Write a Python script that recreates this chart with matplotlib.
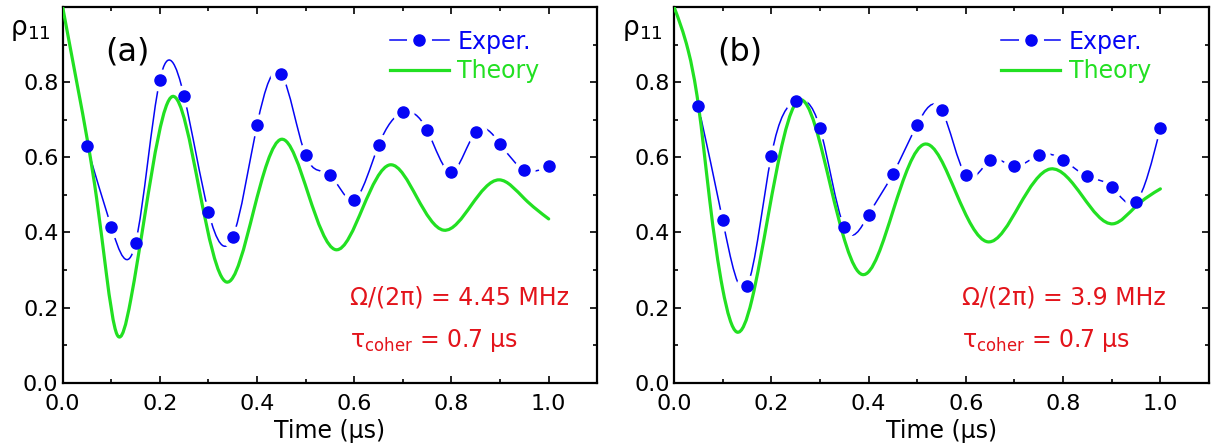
import numpy as np
import matplotlib.pyplot as plt
from matplotlib.path import Path
from matplotlib.patches import PathPatch
from matplotlib.lines import Line2D
from matplotlib.legend_handler import HandlerTuple

plt.rcParams['font.family'] = ['DejaVu Sans']
plt.rcParams['mathtext.fontset'] = 'dejavusans'

# measured points (time in us)
t_exp = [0.05, 0.10, 0.15, 0.20, 0.25, 0.30, 0.35, 0.40, 0.45, 0.50,
         0.55, 0.60, 0.65, 0.70, 0.75, 0.80, 0.85, 0.90, 0.95, 1.00]
exp_a = [0.629, 0.415, 0.372, 0.806, 0.762, 0.455, 0.388, 0.686, 0.822, 0.605,
         0.553, 0.487, 0.632, 0.720, 0.672, 0.561, 0.668, 0.636, 0.567, 0.576]
exp_b = [0.737, 0.433, 0.257, 0.604, 0.750, 0.678, 0.414, 0.447, 0.556, 0.687,
         0.726, 0.552, 0.592, 0.576, 0.606, 0.593, 0.549, 0.521, 0.482, 0.678]

# theory curves
t_th_a = [0.0, 0.029, 0.053, 0.07, 0.09, 0.112, 0.14, 0.169, 0.226, 0.281, 0.337,
          0.393, 0.45, 0.506, 0.562, 0.618, 0.674, 0.729, 0.784, 0.841, 0.898,
          0.95, 1.0]
th_a = [1.0, 0.80, 0.63, 0.49, 0.29, 0.128, 0.22, 0.445, 0.762, 0.515, 0.268,
        0.458, 0.648, 0.50, 0.354, 0.467, 0.580, 0.493, 0.406, 0.473, 0.540,
        0.49, 0.436]
t_th_b = [0.0, 0.029, 0.05, 0.073, 0.10, 0.129, 0.16, 0.1935, 0.258, 0.3225, 0.387,
          0.451, 0.515, 0.58, 0.645, 0.71, 0.774, 0.84, 0.903, 0.95, 1.0]
th_b = [1.0, 0.885, 0.74, 0.49, 0.25, 0.135, 0.22, 0.444, 0.753, 0.52, 0.288,
        0.46, 0.635, 0.505, 0.375, 0.472, 0.569, 0.496, 0.423, 0.47, 0.516]

panel_tags = ['(a)', '(b)']
freq_txt = ['Ω/(2π) = 4.45 MHz', 'Ω/(2π) = 3.9 MHz']

BLUE = '#0505f5'
GREEN = '#22e022'
RED = '#e3141b'


def spline_path(x, y):
    # natural cubic spline through the points, drawn as bezier segments
    x = np.asarray(x, float)
    y = np.asarray(y, float)
    n = len(x)
    h = np.diff(x)
    A = np.zeros((n, n))
    r = np.zeros(n)
    A[0, 0] = A[-1, -1] = 1
    for i in range(1, n - 1):
        A[i, i - 1] = h[i - 1]
        A[i, i] = 2 * (h[i - 1] + h[i])
        A[i, i + 1] = h[i]
        r[i] = 6 * ((y[i + 1] - y[i]) / h[i] - (y[i] - y[i - 1]) / h[i - 1])
    M = np.linalg.solve(A, r)
    m = np.zeros(n)
    for i in range(n - 1):
        m[i] = (y[i + 1] - y[i]) / h[i] - h[i] * (2 * M[i] + M[i + 1]) / 6
    m[-1] = (y[-1] - y[-2]) / h[-1] + h[-1] * (M[-2] + 2 * M[-1]) / 6
    verts = [(x[0], y[0])]
    codes = [Path.MOVETO]
    for i in range(n - 1):
        verts += [(x[i] + h[i] / 3, y[i] + h[i] * m[i] / 3),
                  (x[i + 1] - h[i] / 3, y[i + 1] - h[i] * m[i + 1] / 3),
                  (x[i + 1], y[i + 1])]
        codes += [Path.CURVE4] * 3
    return Path(verts, codes)


fig = plt.figure(figsize=(12.14, 4.47), dpi=100)
ax1 = fig.add_axes([0.0516, 0.1438, 0.4404, 0.8405])
ax2 = fig.add_axes([0.5552, 0.1438, 0.4407, 0.8405])

for k, (ax, ex, tt, th) in enumerate([(ax1, exp_a, t_th_a, th_a), (ax2, exp_b, t_th_b, th_b)]):
    ax.add_patch(PathPatch(spline_path(t_exp, ex), fill=False, edgecolor=BLUE, lw=1.1, zorder=2))
    # white halo gives the gap in the line around each point
    ax.plot(t_exp, ex, 'o', color='white', ms=15, zorder=3)
    ax.add_patch(PathPatch(spline_path(tt, th), fill=False, edgecolor=GREEN, lw=2.3, zorder=4,
                           capstyle='round', joinstyle='round'))
    ax.plot(t_exp, ex, 'o', color=BLUE, ms=8, zorder=5)

    ax.set_xlim(0, 1.1)
    ax.set_ylim(0, 1.0)
    ax.set_xticks([0, 0.2, 0.4, 0.6, 0.8, 1.0])
    ax.set_xticklabels(['0.0', '0.2', '0.4', '0.6', '0.8', '1.0'])
    ax.set_xticks(np.arange(0.1, 1.1, 0.2), minor=True)
    ax.set_yticks([0, 0.2, 0.4, 0.6, 0.8, 1.0])
    ax.set_yticklabels(['0.0', '0.2', '0.4', '0.6', '0.8', ''])
    ax.set_yticks([0.1, 0.3, 0.5, 0.7, 0.9], minor=True)
    ax.tick_params(which='both', direction='in', top=True, right=True, width=1.2, labelsize=16)
    ax.tick_params(which='major', length=5)
    ax.tick_params(which='minor', length=3)
    ax.tick_params(axis='x', pad=8)
    ax.tick_params(axis='y', pad=3)
    for s in ax.spines.values():
        s.set_linewidth(1.6)

    ax.set_xlabel('Time (μs)', fontsize=17, labelpad=4)
    ax.text(-0.098, 0.925, 'ρ$_{\\mathregular{11}}$', transform=ax.transAxes, fontsize=19)
    ax.text(0.08, 0.88, panel_tags[k], transform=ax.transAxes, fontsize=23, va='center')
    ax.text(0.592, 0.209, freq_txt[k], color=RED, fontsize=17)
    ax.text(0.592, 0.095, 'τ$_{\\mathregular{coher}}$ = 0.7 μs', color=RED, fontsize=17)

    h_exp = (Line2D([], [], color=BLUE, lw=1.1),
             Line2D([], [], ls='none', marker='o', ms=17, color='white'),
             Line2D([], [], ls='none', marker='o', ms=8, color=BLUE))
    h_th = Line2D([], [], color=GREEN, lw=2.3)
    leg = ax.legend([h_exp, h_th], ['Exper.', 'Theory'],
                    handler_map={tuple: HandlerTuple(ndivide=1, pad=0)},
                    loc='upper left', bbox_to_anchor=(0.612, 0.94), frameon=False, fontsize=17,
                    numpoints=1, handlelength=2.5, handletextpad=0.35, labelspacing=0.25,
                    borderpad=0, borderaxespad=0)
    for txt, c in zip(leg.get_texts(), [BLUE, GREEN]):
        txt.set_color(c)

fig.savefig('out.png', dpi=100)
